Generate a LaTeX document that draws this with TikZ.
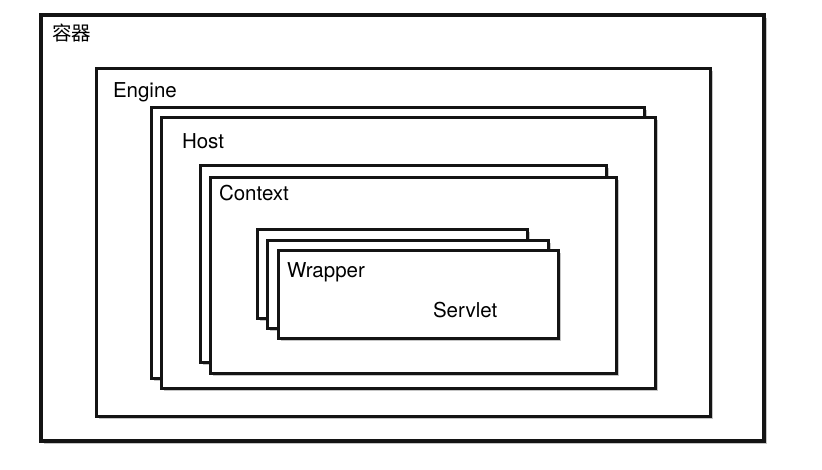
\documentclass[tikz,border=0pt]{standalone}
\usepackage{fontspec}
\setmainfont{TeX Gyre Heros}
\newfontfamily\cjk{Noto Sans CJK SC}
\usepackage{tikz}
\usetikzlibrary{positioning, calc, shadows}
\definecolor{LineInk}{RGB}{20, 20, 20}
\definecolor{ShadeInk}{RGB}{90, 90, 90}

\begin{document}
\begin{tikzpicture}[
        x=1pt, y=-1pt,
        % Styles globaux
        base/.style={inner sep=0pt, outer sep=0pt},
        % Cadre d'une couche
        layer_box/.style={base, draw=LineInk, line width=3pt, fill=white, anchor=north west,
            drop shadow={shadow xshift=2.5pt, shadow yshift=-2.5pt, opacity=0.35, fill=ShadeInk}},
        % Cadre extérieur
        outer_box/.style={layer_box, line width=4pt},
        % Texte des couches
        layer_txt/.style={base, anchor=base west, font=\fontsize{20.5}{23}\selectfont, text=black}
    ]

    % --- FOND ---
    \useasboundingbox[fill=white] (0,0) rectangle (822,469);

    % --- CONTENEUR ---
    \node[outer_box, minimum width=723, minimum height=426] (container) at (41,15) {};
    \node[layer_txt, font=\cjk\fontsize{19.5}{22}\selectfont] (t_container) at ($(container.north west)+(11,25)$) {容器};

    % --- ENGINE ---
    \node[layer_box, minimum width=614, minimum height=348] (engine) at (96,68) {};
    \node[layer_txt] (t_engine) at ($(engine.north west)+(17,29)$) {Engine};

    % --- HOST (deux exemplaires) ---
    \node[layer_box, minimum width=493, minimum height=271] (host_back) at (151,107) {};
    \node[layer_box, minimum width=494, minimum height=271] (host) at (161,117) {};
    \node[layer_txt] (t_host) at ($(host.north west)+(21,31)$) {Host};

    % --- CONTEXT (deux exemplaires) ---
    \node[layer_box, minimum width=406, minimum height=197] (ctx_back) at (200,165) {};
    \node[layer_box, minimum width=406, minimum height=196] (ctx) at (210,177) {};
    \node[layer_txt] (t_ctx) at ($(ctx.north west)+(9,23)$) {Context};

    % --- WRAPPER (trois exemplaires) ---
    \node[layer_box, minimum width=270, minimum height=89] (wrap_back2) at (257,229) {};
    \node[layer_box, minimum width=281, minimum height=88] (wrap_back1) at (267,240) {};
    \node[layer_box, minimum width=280, minimum height=88] (wrap) at (278,250) {};
    \node[layer_txt] (t_wrap) at ($(wrap.north west)+(9,27)$) {Wrapper};
    \node[layer_txt] (t_servlet) at ($(wrap.north west)+(155,67)$) {Servlet};

\end{tikzpicture}
\end{document}
